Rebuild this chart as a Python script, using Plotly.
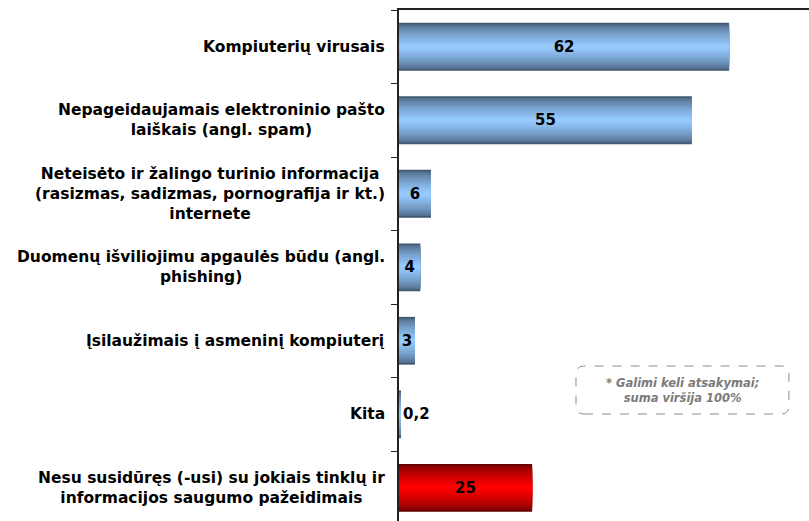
import plotly.graph_objs as go

# data
categories = [
    "Kompiuterių virusais",
    "Nepageidaujamais elektroninio pašto<br>laiškais (angl. spam)",
    "Neteisėto ir žalingo turinio informacija<br>(rasizmas, sadizmas, pornografija ir kt.)<br>internete",
    "Duomenų išviliojimu apgaulės būdu (angl.<br>phishing)",
    "Įsilaužimais į asmeninį kompiuterį",
    "Kita",
    "Nesu susidūręs (-usi) su jokiais tinklų ir<br>informacijos saugumo pažeidimais",
]
values = [62, 55, 6, 4, 3, 0.2, 25]
labels = [str(v).replace('.', ',') for v in values]
is_red = [False, False, False, False, False, False, True]
note = "* Galimi keli atsakymai;<br>suma viršija 100%"

font = "DejaVu Sans"
bar_w = 0.65


def mix(c1, c2, t):
    return 'rgb(%d,%d,%d)' % tuple(round(a + (b - a) * t) for a, b in zip(c1, c2))


blue_edge, blue_mid = (66, 88, 114), (150, 202, 255)
red_edge, red_mid = (100, 0, 0), (255, 0, 0)

fig = go.Figure()

# fake a vertical gradient by stacking narrower and lighter bars
n = 14
for k in range(n):
    t = (k / (n - 1)) ** 0.6
    cols = [mix(red_edge, red_mid, t) if r else mix(blue_edge, blue_mid, t) for r in is_red]
    fig.add_trace(go.Bar(x=values, y=categories, orientation='h',
                         width=bar_w * (1 - k / n), marker=dict(color=cols, line=dict(width=0)),
                         hoverinfo='skip', showlegend=False))

# labels on top
pos = ['outside' if v < 1 else 'inside' for v in values]
fig.add_trace(go.Bar(x=values, y=categories, orientation='h', width=bar_w,
                     marker=dict(color='rgba(0,0,0,0)', line=dict(width=0)),
                     text=labels, textposition=pos, insidetextanchor='middle',
                     textfont=dict(family=font, size=15, color='black', weight='bold'),
                     cliponaxis=False, hoverinfo='skip', showlegend=False))

# category labels, lines centred like the original
for c in categories:
    fig.add_annotation(x=0, xref='paper', y=c, yref='y', xanchor='right', xshift=-12,
                       text="<b>" + c + "</b>", align='center', showarrow=False,
                       font=dict(family=font, size=15.5, color='black'))

# dashed rounded note box
x0, x1, y0, y1 = 0.4317, 0.951, 0.2094, 0.3033
rx, ry = 0.0195, 0.0157
path = ("M %f,%f L %f,%f Q %f,%f %f,%f L %f,%f Q %f,%f %f,%f L %f,%f Q %f,%f %f,%f L %f,%f Q %f,%f %f,%f Z"
        % (x0 + rx, y0, x1 - rx, y0, x1, y0, x1, y0 + ry, x1, y1 - ry, x1, y1, x1 - rx, y1,
           x0 + rx, y1, x0, y1, x0, y1 - ry, x0, y0 + ry, x0, y0, x0 + rx, y0))
fig.add_shape(type='path', path=path, xref='paper', yref='paper',
              line=dict(color='#8c8c8c', width=1, dash='dash'))
fig.add_annotation(x=(x0 + x1) / 2, y=(y0 + y1) / 2, xref='paper', yref='paper',
                   xanchor='center', yanchor='middle',
                   text="<b><i>" + note + "</i></b>", showarrow=False, align='center',
                   font=dict(family=font, size=11.5, color='#7a7a7a'))

fig.update_layout(
    width=809, height=521,
    margin=dict(l=399, r=0, t=10, b=0),
    barmode='overlay',
    plot_bgcolor='white', paper_bgcolor='white',
    uniformtext=dict(minsize=15, mode='show'),
    xaxis=dict(range=[0, 77], side='top', showline=True, linecolor='#222', linewidth=1.5,
               showgrid=False, zeroline=False, showticklabels=False, ticks='', automargin=False),
    yaxis=dict(type='category', range=[6.452, -0.5], showline=True, linecolor='#222', linewidth=1.5,
               showgrid=False, ticks='outside', tickson='boundaries', ticklen=6, tickcolor='#222',
               showticklabels=False, automargin=False),
)

# page body has a default margin; drop it so the figure sits at the window corner
fig.write_html("out.html", config={'displayModeBar': False},
               post_script="document.body.style.margin='0';")
